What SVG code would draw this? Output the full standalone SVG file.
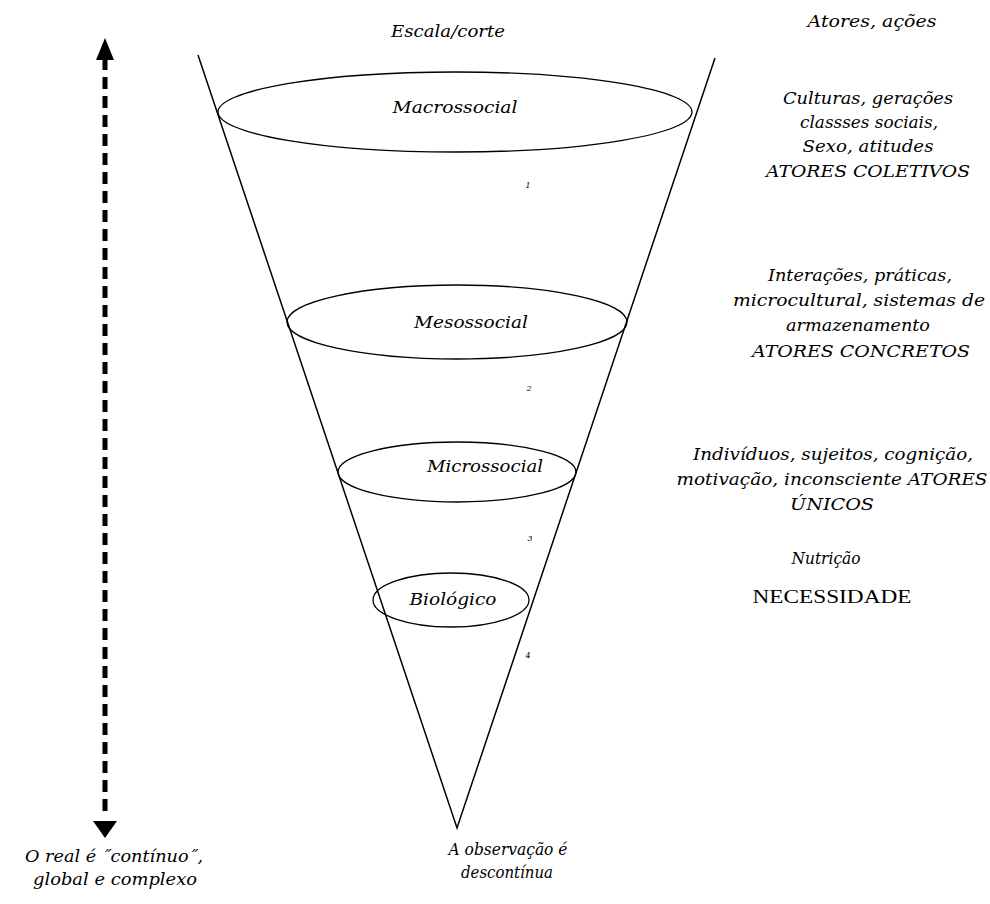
<svg xmlns="http://www.w3.org/2000/svg" width="990" height="904" viewBox="0 0 990 904">
<style>
.t{font-family:"DejaVu Serif","Liberation Serif",serif;font-size:16px;font-style:italic;fill:#000;text-anchor:middle}
.n{font-family:"Liberation Serif","DejaVu Serif",serif;font-size:18px;fill:#000;text-anchor:middle}
.s{font-family:"DejaVu Serif",serif;font-size:8px;font-style:italic;fill:#000;text-anchor:middle}
.e{fill:none;stroke:#000;stroke-width:1.3}
.c{fill:none;stroke:#000;stroke-width:1.5}
</style>
<rect width="990" height="904" fill="#fff"/>
<g id="connectors">
<polyline class="c" points="198,55 457,828 715,58"/>
<line x1="105" y1="58" x2="105" y2="818" stroke="#000" stroke-width="5" stroke-dasharray="12,7"/>
<polygon points="105,38 96,60 114,60" fill="#000"/>
<polygon points="105,838 93,821 117,821" fill="#000"/>
</g>
<g id="macro"><ellipse class="e" cx="455" cy="112" rx="237" ry="40"/><text class="t" x="455" y="113" textLength="125" lengthAdjust="spacingAndGlyphs">Macrossocial</text></g>
<g id="meso"><ellipse class="e" cx="457" cy="322" rx="170" ry="37"/><text class="t" x="471" y="328" textLength="114" lengthAdjust="spacingAndGlyphs">Mesossocial</text></g>
<g id="micro"><ellipse class="e" cx="457" cy="472" rx="119" ry="30"/><text class="t" x="485" y="472" textLength="116" lengthAdjust="spacingAndGlyphs">Microssocial</text></g>
<g id="bio"><ellipse class="e" cx="451" cy="600" rx="78" ry="27"/><text class="t" x="453" y="605" textLength="87" lengthAdjust="spacingAndGlyphs">Biológico</text></g>
<g id="numbers">
<text class="s" x="528" y="188">1</text>
<text class="s" x="529" y="391">2</text>
<text class="s" x="530" y="541">3</text>
<text class="s" x="528" y="658">4</text>
</g>
<g id="labels">
<text class="t" x="448" y="37" textLength="114" lengthAdjust="spacingAndGlyphs">Escala/corte</text>
<text class="t" x="872" y="27" textLength="129" lengthAdjust="spacingAndGlyphs">Atores, ações</text>
<text class="t" x="868" y="104" textLength="170" lengthAdjust="spacingAndGlyphs">Culturas, gerações</text>
<text class="t" x="869" y="128" textLength="138" lengthAdjust="spacingAndGlyphs">classses sociais,</text>
<text class="t" x="868" y="152" textLength="131" lengthAdjust="spacingAndGlyphs">Sexo, atitudes</text>
<text class="t" x="868" y="177" textLength="204" lengthAdjust="spacingAndGlyphs">ATORES COLETIVOS</text>
<text class="t" x="860" y="281" textLength="184" lengthAdjust="spacingAndGlyphs">Interações, práticas,</text>
<text class="t" x="859" y="306" textLength="252" lengthAdjust="spacingAndGlyphs">microcultural, sistemas de</text>
<text class="t" x="858" y="331" textLength="144" lengthAdjust="spacingAndGlyphs">armazenamento</text>
<text class="t" x="861" y="357" textLength="218" lengthAdjust="spacingAndGlyphs">ATORES CONCRETOS</text>
<text class="t" x="833" y="460" textLength="280" lengthAdjust="spacingAndGlyphs">Indivíduos, sujeitos, cognição,</text>
<text class="t" x="832" y="485" textLength="311" lengthAdjust="spacingAndGlyphs">motivação, inconsciente ATORES</text>
<text class="t" x="832" y="510" textLength="84" lengthAdjust="spacingAndGlyphs">ÚNICOS</text>
<text class="t" x="826" y="564" textLength="69" lengthAdjust="spacingAndGlyphs">Nutrição</text>
<text class="n" x="832" y="603" textLength="159" lengthAdjust="spacingAndGlyphs">NECESSIDADE</text>
<text class="t" x="114" y="862" textLength="178" lengthAdjust="spacingAndGlyphs">O real é ˝contínuo˝,</text>
<text class="t" x="115" y="885" textLength="164" lengthAdjust="spacingAndGlyphs">global e complexo</text>
<text class="t" x="508" y="855" textLength="119" lengthAdjust="spacingAndGlyphs">A observação é</text>
<text class="t" x="507" y="878" textLength="92" lengthAdjust="spacingAndGlyphs">descontínua</text>
</g>
</svg>
